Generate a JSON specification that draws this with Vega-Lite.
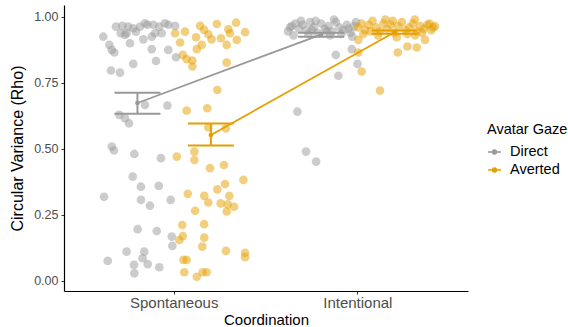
{
  "$schema": "https://vega.github.io/schema/vega-lite/v6.json",
  "width": 404,
  "height": 286,
  "autosize": "none",
  "padding": {"left": 64, "top": 5, "right": 100, "bottom": 36},
  "background": "white",
  "config": {
    "view": {"stroke": null},
    "font": "Liberation Sans",
    "axis": {"grid": false, "domainColor": "#000000", "domainWidth": 1.2, "tickColor": "#333333", "tickSize": 3, "labelColor": "#4d4d4d", "titleColor": "#000000", "titleFontWeight": "normal", "labelFont": "Liberation Sans", "titleFont": "Liberation Sans"},
    "legend": {"titleFontWeight": "normal", "titleFont": "Liberation Sans", "labelFont": "Liberation Sans"}
  },
  "datasets": {
    "pts": [
      {"c":"Spontaneous","g":"Direct","o":-0.317,"r":0.963},
      {"c":"Spontaneous","g":"Direct","o":-0.282,"r":0.966},
      {"c":"Spontaneous","g":"Direct","o":-0.291,"r":0.938},
      {"c":"Spontaneous","g":"Direct","o":-0.259,"r":0.938},
      {"c":"Spontaneous","g":"Direct","o":-0.250,"r":0.963},
      {"c":"Spontaneous","g":"Direct","o":-0.223,"r":0.957},
      {"c":"Spontaneous","g":"Direct","o":-0.208,"r":0.944},
      {"c":"Spontaneous","g":"Direct","o":-0.186,"r":0.963},
      {"c":"Spontaneous","g":"Direct","o":-0.159,"r":0.976},
      {"c":"Spontaneous","g":"Direct","o":-0.146,"r":0.970},
      {"c":"Spontaneous","g":"Direct","o":-0.114,"r":0.970},
      {"c":"Spontaneous","g":"Direct","o":-0.104,"r":0.938},
      {"c":"Spontaneous","g":"Direct","o":-0.081,"r":0.963},
      {"c":"Spontaneous","g":"Direct","o":-0.068,"r":0.938},
      {"c":"Spontaneous","g":"Direct","o":-0.050,"r":0.976},
      {"c":"Spontaneous","g":"Direct","o":-0.032,"r":0.970},
      {"c":"Spontaneous","g":"Direct","o":0.005,"r":0.966},
      {"c":"Spontaneous","g":"Direct","o":-0.386,"r":0.925},
      {"c":"Spontaneous","g":"Direct","o":-0.268,"r":0.932},
      {"c":"Spontaneous","g":"Direct","o":-0.168,"r":0.915},
      {"c":"Spontaneous","g":"Direct","o":-0.122,"r":0.925},
      {"c":"Spontaneous","g":"Direct","o":-0.241,"r":0.900},
      {"c":"Spontaneous","g":"Direct","o":-0.122,"r":0.878},
      {"c":"Spontaneous","g":"Direct","o":-0.032,"r":0.875},
      {"c":"Spontaneous","g":"Direct","o":-0.353,"r":0.894},
      {"c":"Spontaneous","g":"Direct","o":-0.340,"r":0.875},
      {"c":"Spontaneous","g":"Direct","o":-0.326,"r":0.865},
      {"c":"Spontaneous","g":"Direct","o":-0.223,"r":0.822},
      {"c":"Spontaneous","g":"Direct","o":-0.099,"r":0.833},
      {"c":"Spontaneous","g":"Direct","o":0.010,"r":0.847},
      {"c":"Spontaneous","g":"Direct","o":-0.344,"r":0.797},
      {"c":"Spontaneous","g":"Direct","o":-0.295,"r":0.789},
      {"c":"Spontaneous","g":"Direct","o":-0.159,"r":0.667},
      {"c":"Spontaneous","g":"Direct","o":-0.037,"r":0.664},
      {"c":"Spontaneous","g":"Direct","o":-0.299,"r":0.629},
      {"c":"Spontaneous","g":"Direct","o":-0.268,"r":0.616},
      {"c":"Spontaneous","g":"Direct","o":-0.246,"r":0.597},
      {"c":"Spontaneous","g":"Direct","o":-0.340,"r":0.509},
      {"c":"Spontaneous","g":"Direct","o":-0.328,"r":0.494},
      {"c":"Spontaneous","g":"Direct","o":-0.217,"r":0.481},
      {"c":"Spontaneous","g":"Direct","o":-0.072,"r":0.465},
      {"c":"Spontaneous","g":"Direct","o":-0.226,"r":0.395},
      {"c":"Spontaneous","g":"Direct","o":-0.181,"r":0.357},
      {"c":"Spontaneous","g":"Direct","o":-0.084,"r":0.360},
      {"c":"Spontaneous","g":"Direct","o":-0.382,"r":0.319},
      {"c":"Spontaneous","g":"Direct","o":-0.181,"r":0.307},
      {"c":"Spontaneous","g":"Direct","o":-0.132,"r":0.285},
      {"c":"Spontaneous","g":"Direct","o":-0.019,"r":0.307},
      {"c":"Spontaneous","g":"Direct","o":-0.199,"r":0.196},
      {"c":"Spontaneous","g":"Direct","o":-0.095,"r":0.189},
      {"c":"Spontaneous","g":"Direct","o":-0.013,"r":0.168},
      {"c":"Spontaneous","g":"Direct","o":-0.010,"r":0.133},
      {"c":"Spontaneous","g":"Direct","o":-0.259,"r":0.111},
      {"c":"Spontaneous","g":"Direct","o":-0.163,"r":0.111},
      {"c":"Spontaneous","g":"Direct","o":-0.172,"r":0.086},
      {"c":"Spontaneous","g":"Direct","o":-0.362,"r":0.076},
      {"c":"Spontaneous","g":"Direct","o":-0.219,"r":0.061},
      {"c":"Spontaneous","g":"Direct","o":-0.144,"r":0.064},
      {"c":"Spontaneous","g":"Direct","o":-0.081,"r":0.052},
      {"c":"Spontaneous","g":"Direct","o":-0.217,"r":0.029},
      {"c":"Spontaneous","g":"Averted","o":0.059,"r":0.944},
      {"c":"Spontaneous","g":"Averted","o":0.032,"r":0.903},
      {"c":"Spontaneous","g":"Averted","o":0.141,"r":0.966},
      {"c":"Spontaneous","g":"Averted","o":0.163,"r":0.951},
      {"c":"Spontaneous","g":"Averted","o":0.186,"r":0.934},
      {"c":"Spontaneous","g":"Averted","o":0.119,"r":0.923},
      {"c":"Spontaneous","g":"Averted","o":0.150,"r":0.894},
      {"c":"Spontaneous","g":"Averted","o":0.123,"r":0.878},
      {"c":"Spontaneous","g":"Averted","o":0.204,"r":0.915},
      {"c":"Spontaneous","g":"Averted","o":0.232,"r":0.973},
      {"c":"Spontaneous","g":"Averted","o":0.255,"r":0.919},
      {"c":"Spontaneous","g":"Averted","o":0.295,"r":0.953},
      {"c":"Spontaneous","g":"Averted","o":0.304,"r":0.938},
      {"c":"Spontaneous","g":"Averted","o":0.337,"r":0.978},
      {"c":"Spontaneous","g":"Averted","o":0.341,"r":0.913},
      {"c":"Spontaneous","g":"Averted","o":0.386,"r":0.942},
      {"c":"Spontaneous","g":"Averted","o":0.286,"r":0.894},
      {"c":"Spontaneous","g":"Averted","o":0.005,"r":0.938},
      {"c":"Spontaneous","g":"Averted","o":0.047,"r":0.856},
      {"c":"Spontaneous","g":"Averted","o":0.068,"r":0.840},
      {"c":"Spontaneous","g":"Averted","o":0.099,"r":0.835},
      {"c":"Spontaneous","g":"Averted","o":0.099,"r":0.812},
      {"c":"Spontaneous","g":"Averted","o":0.286,"r":0.827},
      {"c":"Spontaneous","g":"Averted","o":0.235,"r":0.723},
      {"c":"Spontaneous","g":"Averted","o":0.068,"r":0.645},
      {"c":"Spontaneous","g":"Averted","o":0.180,"r":0.654},
      {"c":"Spontaneous","g":"Averted","o":0.186,"r":0.581},
      {"c":"Spontaneous","g":"Averted","o":0.281,"r":0.578},
      {"c":"Spontaneous","g":"Averted","o":0.014,"r":0.471},
      {"c":"Spontaneous","g":"Averted","o":0.110,"r":0.490},
      {"c":"Spontaneous","g":"Averted","o":0.110,"r":0.458},
      {"c":"Spontaneous","g":"Averted","o":0.195,"r":0.427},
      {"c":"Spontaneous","g":"Averted","o":0.271,"r":0.439},
      {"c":"Spontaneous","g":"Averted","o":0.377,"r":0.383},
      {"c":"Spontaneous","g":"Averted","o":0.277,"r":0.367},
      {"c":"Spontaneous","g":"Averted","o":0.235,"r":0.347},
      {"c":"Spontaneous","g":"Averted","o":0.074,"r":0.330},
      {"c":"Spontaneous","g":"Averted","o":0.164,"r":0.322},
      {"c":"Spontaneous","g":"Averted","o":0.186,"r":0.297},
      {"c":"Spontaneous","g":"Averted","o":0.300,"r":0.322},
      {"c":"Spontaneous","g":"Averted","o":0.253,"r":0.294},
      {"c":"Spontaneous","g":"Averted","o":0.292,"r":0.290},
      {"c":"Spontaneous","g":"Averted","o":0.326,"r":0.281},
      {"c":"Spontaneous","g":"Averted","o":0.286,"r":0.263},
      {"c":"Spontaneous","g":"Averted","o":0.114,"r":0.266},
      {"c":"Spontaneous","g":"Averted","o":0.044,"r":0.212},
      {"c":"Spontaneous","g":"Averted","o":0.163,"r":0.215},
      {"c":"Spontaneous","g":"Averted","o":0.047,"r":0.170},
      {"c":"Spontaneous","g":"Averted","o":0.028,"r":0.155},
      {"c":"Spontaneous","g":"Averted","o":0.164,"r":0.164},
      {"c":"Spontaneous","g":"Averted","o":0.153,"r":0.130},
      {"c":"Spontaneous","g":"Averted","o":0.282,"r":0.114},
      {"c":"Spontaneous","g":"Averted","o":0.386,"r":0.107},
      {"c":"Spontaneous","g":"Averted","o":0.386,"r":0.090},
      {"c":"Spontaneous","g":"Averted","o":0.050,"r":0.080},
      {"c":"Spontaneous","g":"Averted","o":0.068,"r":0.080},
      {"c":"Spontaneous","g":"Averted","o":0.055,"r":0.033},
      {"c":"Spontaneous","g":"Averted","o":0.123,"r":0.016},
      {"c":"Spontaneous","g":"Averted","o":0.155,"r":0.033},
      {"c":"Spontaneous","g":"Averted","o":0.177,"r":0.033},
      {"c":"Intentional","g":"Direct","o":-0.38,"r":0.945},
      {"c":"Intentional","g":"Direct","o":-0.36,"r":0.965},
      {"c":"Intentional","g":"Direct","o":-0.34,"r":0.975},
      {"c":"Intentional","g":"Direct","o":-0.32,"r":0.955},
      {"c":"Intentional","g":"Direct","o":-0.30,"r":0.970},
      {"c":"Intentional","g":"Direct","o":-0.28,"r":0.950},
      {"c":"Intentional","g":"Direct","o":-0.26,"r":0.980},
      {"c":"Intentional","g":"Direct","o":-0.24,"r":0.960},
      {"c":"Intentional","g":"Direct","o":-0.22,"r":0.940},
      {"c":"Intentional","g":"Direct","o":-0.20,"r":0.975},
      {"c":"Intentional","g":"Direct","o":-0.18,"r":0.955},
      {"c":"Intentional","g":"Direct","o":-0.16,"r":0.965},
      {"c":"Intentional","g":"Direct","o":-0.14,"r":0.945},
      {"c":"Intentional","g":"Direct","o":-0.12,"r":0.980},
      {"c":"Intentional","g":"Direct","o":-0.10,"r":0.960},
      {"c":"Intentional","g":"Direct","o":-0.08,"r":0.950},
      {"c":"Intentional","g":"Direct","o":-0.06,"r":0.970},
      {"c":"Intentional","g":"Direct","o":-0.04,"r":0.940},
      {"c":"Intentional","g":"Direct","o":-0.02,"r":0.965},
      {"c":"Intentional","g":"Direct","o":-0.01,"r":0.980},
      {"c":"Intentional","g":"Direct","o":-0.35,"r":0.930},
      {"c":"Intentional","g":"Direct","o":-0.27,"r":0.935},
      {"c":"Intentional","g":"Direct","o":-0.15,"r":0.930},
      {"c":"Intentional","g":"Direct","o":-0.09,"r":0.935},
      {"c":"Intentional","g":"Direct","o":-0.03,"r":0.925},
      {"c":"Intentional","g":"Direct","o":-0.31,"r":0.985},
      {"c":"Intentional","g":"Direct","o":-0.23,"r":0.985},
      {"c":"Intentional","g":"Direct","o":-0.13,"r":0.990},
      {"c":"Intentional","g":"Direct","o":-0.37,"r":0.960},
      {"c":"Intentional","g":"Direct","o":-0.25,"r":0.950},
      {"c":"Intentional","g":"Direct","o":-0.17,"r":0.945},
      {"c":"Intentional","g":"Direct","o":-0.05,"r":0.955},
      {"c":"Intentional","g":"Direct","o":-0.033,"r":0.878},
      {"c":"Intentional","g":"Direct","o":-0.120,"r":0.856},
      {"c":"Intentional","g":"Direct","o":-0.002,"r":0.822},
      {"c":"Intentional","g":"Direct","o":-0.106,"r":0.777},
      {"c":"Intentional","g":"Direct","o":-0.329,"r":0.641},
      {"c":"Intentional","g":"Direct","o":-0.282,"r":0.490},
      {"c":"Intentional","g":"Direct","o":-0.227,"r":0.452},
      {"c":"Intentional","g":"Averted","o":0.00,"r":0.960},
      {"c":"Intentional","g":"Averted","o":0.02,"r":0.975},
      {"c":"Intentional","g":"Averted","o":0.04,"r":0.950},
      {"c":"Intentional","g":"Averted","o":0.06,"r":0.970},
      {"c":"Intentional","g":"Averted","o":0.08,"r":0.985},
      {"c":"Intentional","g":"Averted","o":0.10,"r":0.960},
      {"c":"Intentional","g":"Averted","o":0.12,"r":0.945},
      {"c":"Intentional","g":"Averted","o":0.14,"r":0.975},
      {"c":"Intentional","g":"Averted","o":0.16,"r":0.955},
      {"c":"Intentional","g":"Averted","o":0.18,"r":0.970},
      {"c":"Intentional","g":"Averted","o":0.20,"r":0.940},
      {"c":"Intentional","g":"Averted","o":0.22,"r":0.965},
      {"c":"Intentional","g":"Averted","o":0.24,"r":0.980},
      {"c":"Intentional","g":"Averted","o":0.26,"r":0.950},
      {"c":"Intentional","g":"Averted","o":0.28,"r":0.960},
      {"c":"Intentional","g":"Averted","o":0.30,"r":0.975},
      {"c":"Intentional","g":"Averted","o":0.32,"r":0.945},
      {"c":"Intentional","g":"Averted","o":0.34,"r":0.965},
      {"c":"Intentional","g":"Averted","o":0.36,"r":0.955},
      {"c":"Intentional","g":"Averted","o":0.38,"r":0.970},
      {"c":"Intentional","g":"Averted","o":0.40,"r":0.950},
      {"c":"Intentional","g":"Averted","o":0.42,"r":0.965},
      {"c":"Intentional","g":"Averted","o":0.41,"r":0.960},
      {"c":"Intentional","g":"Averted","o":0.03,"r":0.935},
      {"c":"Intentional","g":"Averted","o":0.11,"r":0.930},
      {"c":"Intentional","g":"Averted","o":0.19,"r":0.985},
      {"c":"Intentional","g":"Averted","o":0.27,"r":0.935},
      {"c":"Intentional","g":"Averted","o":0.35,"r":0.940},
      {"c":"Intentional","g":"Averted","o":0.39,"r":0.975},
      {"c":"Intentional","g":"Averted","o":0.07,"r":0.945},
      {"c":"Intentional","g":"Averted","o":0.15,"r":0.990},
      {"c":"Intentional","g":"Averted","o":0.31,"r":0.990},
      {"c":"Intentional","g":"Averted","o":0.003,"r":0.913},
      {"c":"Intentional","g":"Averted","o":0.003,"r":0.865},
      {"c":"Intentional","g":"Averted","o":0.021,"r":0.793},
      {"c":"Intentional","g":"Averted","o":0.121,"r":0.721},
      {"c":"Intentional","g":"Averted","o":0.218,"r":0.865},
      {"c":"Intentional","g":"Averted","o":0.270,"r":0.888},
      {"c":"Intentional","g":"Averted","o":0.321,"r":0.884},
      {"c":"Intentional","g":"Averted","o":0.366,"r":0.913},
      {"c":"Intentional","g":"Averted","o":0.212,"r":0.923},
      {"c":"Intentional","g":"Averted","o":0.312,"r":0.930}
    ],
    "means": [
      {"c":"Spontaneous","g":"Direct","o":-0.2,"m":0.674,"lo":0.633,"hi":0.713},
      {"c":"Spontaneous","g":"Averted","o":0.2,"m":0.553,"lo":0.513,"hi":0.596},
      {"c":"Intentional","g":"Direct","o":-0.2,"m":0.933,"lo":0.925,"hi":0.940},
      {"c":"Intentional","g":"Averted","o":0.2,"m":0.942,"lo":0.936,"hi":0.948}
    ]
  },
  "encoding": {
    "x": {"field": "c", "type": "nominal", "sort": ["Spontaneous","Intentional"],
      "scale": {"paddingInner": 0, "paddingOuter": 0.1},
      "axis": {"title": "Coordination", "labelAngle": 0, "labelFontSize": 15, "titleFontSize": 15, "labelPadding": 1, "titlePadding": 2, "domainColor": "#000000"}},
    "xOffset": {"field": "o", "type": "quantitative", "scale": {"domain": [-0.5, 0.5]}},
    "color": {"field": "g", "type": "nominal", "sort": ["Direct","Averted"],
      "scale": {"domain": ["Direct","Averted"], "range": ["#999999","#E69F00"]},
      "legend": {"title": "Avatar Gaze", "orient": "none", "legendX": 423, "legendY": 118,
        "titleFontSize": 14.5, "labelFontSize": 14.5, "titleColor": "#000000", "labelColor": "#000000",
        "symbolType": "M-1,0H1M-0.3,0A0.3,0.3 0 1,0 0.3,0A0.3,0.3 0 1,0 -0.3,0",
        "symbolSize": 169, "symbolStrokeWidth": 1.5, "symbolOpacity": 1, "labelOffset": 8, "rowPadding": 3, "titlePadding": 7,
        "encode": {"symbols": {"update": {"stroke": {"scale": "color", "field": "value"}, "fill": {"scale": "color", "field": "value"}, "opacity": {"value": 1}, "fillOpacity": {"value": 1}, "strokeOpacity": {"value": 1}}}}}}
  },
  "layer": [
    {
      "data": {"name": "pts"},
      "mark": {"type": "circle", "size": 75, "opacity": 0.5},
      "encoding": {
        "y": {"field": "r", "type": "quantitative", "scale": {"domain": [-0.038, 1.045], "nice": false, "zero": false},
          "axis": {"title": "Circular Variance (Rho)", "values": [0, 0.25, 0.5, 0.75, 1], "format": ".2f", "labelFontSize": 12.5, "titleFontSize": 16, "labelPadding": 3, "titlePadding": 8}}
      }
    },
    {
      "data": {"name": "means"},
      "mark": {"type": "line", "strokeWidth": 1.8},
      "encoding": {"y": {"field": "m", "type": "quantitative"}, "detail": {"field": "g"}}
    },
    {
      "data": {"name": "means"},
      "mark": {"type": "rule", "strokeWidth": 2},
      "encoding": {"y": {"field": "lo", "type": "quantitative"}, "y2": {"field": "hi"}}
    },
    {
      "data": {"name": "means"},
      "mark": {"type": "tick", "orient": "horizontal", "size": 46, "thickness": 2, "opacity": 1},
      "encoding": {"y": {"field": "lo", "type": "quantitative"}}
    },
    {
      "data": {"name": "means"},
      "mark": {"type": "tick", "orient": "horizontal", "size": 46, "thickness": 2, "opacity": 1},
      "encoding": {"y": {"field": "hi", "type": "quantitative"}}
    },
    {
      "data": {"name": "means"},
      "mark": {"type": "circle", "size": 22, "opacity": 1},
      "encoding": {"y": {"field": "m", "type": "quantitative"}}
    }
  ]
}
